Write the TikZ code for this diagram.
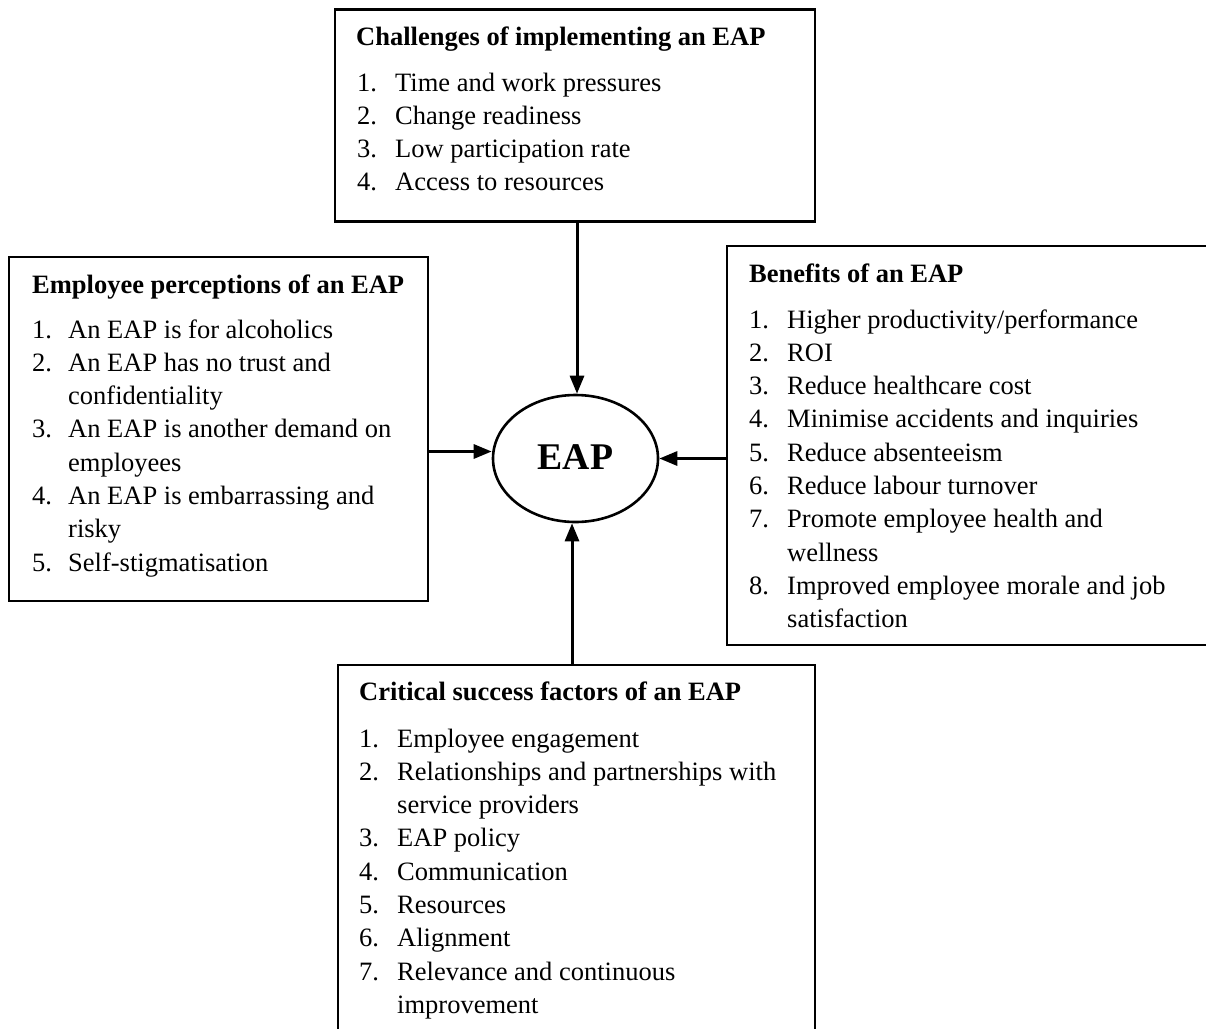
\documentclass[tikz,border=0pt]{standalone}
\usepackage{fontspec}
\setmainfont{Liberation Serif}
\usetikzlibrary{arrows.meta,shapes.geometric}
\tikzset{
  box/.style={draw, line width=2.2pt, rectangle, inner sep=0pt},
  txt/.style={anchor=base west, inner sep=0pt, font=\fontsize{26.5}{33}\selectfont},
  ttl/.style={txt, font=\fontsize{26.5}{33}\selectfont\bfseries},
  arr/.style={line width=3pt, -{Triangle[length=18pt,width=14pt]}},
}
\begin{document}
\begin{tikzpicture}[x=1pt,y=-1pt]
\useasboundingbox (0,0) rectangle (1206,1028);
\clip (0,0) rectangle (1206,1028);
\fill[white] (0,0) rectangle (1206,1028);
% boxes
\node[box, minimum width=480, minimum height=212] (top) at (575,115.5) {};
\node[box, minimum width=419, minimum height=344] (left) at (218.5,429) {};
\node[box, minimum width=490, minimum height=399] (right) at (972,445.5) {};
\node[box, minimum width=477, minimum height=380] (bot) at (576.5,855) {};
\node[draw, ellipse, line width=2.6pt, minimum width=165, minimum height=127, inner sep=0pt] (eap) at (575.5,458.5) {\fontsize{37.7}{40}\selectfont\bfseries\raisebox{2pt}{EAP}};
% arrows
\draw[arr] ([xshift=2pt]top.south) -- ([xshift=1.5pt]eap.north);
\draw[arr] ([yshift=7pt]eap.west -| left.east) -- ([yshift=7pt]eap.west);
\draw[arr] (right.west |- eap.east) -- (eap.east);
\draw[arr] ([xshift=-4.5pt]bot.north) -- ([xshift=-3.5pt]eap.south);
% top box text
\node[ttl] (tT) at (356,45) {Challenges of implementing an EAP};
\node[txt] (tn1) at (357,91) {1.};   \node[txt] (ti1) at (395,91) {Time and work pressures};
\node[txt] (tn2) at (357,124.3) {2.}; \node[txt] (ti2) at (395,124.3) {Change readiness};
\node[txt] (tn3) at (357,157.6) {3.}; \node[txt] (ti3) at (395,157.6) {Low participation rate};
\node[txt] (tn4) at (357,190.9) {4.}; \node[txt] (ti4) at (395,190.9) {Access to resources};
% left box text
\node[ttl] (lT) at (32,293) {Employee perceptions of an EAP};
\node[txt] (ln1) at (32,338) {1.};   \node[txt] (li1) at (68,338) {An EAP is for alcoholics};
\node[txt] (ln2) at (32,371.3) {2.}; \node[txt] (li2) at (68,371.3) {An EAP has no trust and};
\node[txt] (li2b) at (68,404.6) {confidentiality};
\node[txt] (ln3) at (32,437.9) {3.}; \node[txt] (li3) at (68,437.9) {An EAP is another demand on};
\node[txt] (li3b) at (68,471.2) {employees};
\node[txt] (ln4) at (32,504.5) {4.}; \node[txt] (li4) at (68,504.5) {An EAP is embarrassing and};
\node[txt] (li4b) at (68,537.8) {risky};
\node[txt] (ln5) at (32,571.1) {5.}; \node[txt] (li5) at (68,571.1) {Self-stigmatisation};
% right box text
\node[ttl] (rT) at (749,282) {Benefits of an EAP};
\node[txt] (rn1) at (749,328) {1.};   \node[txt] (ri1) at (787,328) {Higher productivity/performance};
\node[txt] (rn2) at (749,361.3) {2.}; \node[txt] (ri2) at (787,361.3) {ROI};
\node[txt] (rn3) at (749,394.6) {3.}; \node[txt] (ri3) at (787,394.6) {Reduce healthcare cost};
\node[txt] (rn4) at (749,427.9) {4.}; \node[txt] (ri4) at (787,427.9) {Minimise accidents and inquiries};
\node[txt] (rn5) at (749,461.2) {5.}; \node[txt] (ri5) at (787,461.2) {Reduce absenteeism};
\node[txt] (rn6) at (749,494.5) {6.}; \node[txt] (ri6) at (787,494.5) {Reduce labour turnover};
\node[txt] (rn7) at (749,527.8) {7.}; \node[txt] (ri7) at (787,527.8) {Promote employee health and};
\node[txt] (ri7b) at (787,561.1) {wellness};
\node[txt] (rn8) at (749,594.4) {8.}; \node[txt] (ri8) at (787,594.4) {Improved employee morale and job};
\node[txt] (ri8b) at (787,627.7) {satisfaction};
% bottom box text
\node[ttl] (bT) at (359,700) {Critical success factors of an EAP};
\node[txt] (bn1) at (359,747) {1.};   \node[txt] (bi1) at (397,747) {Employee engagement};
\node[txt] (bn2) at (359,780.3) {2.}; \node[txt] (bi2) at (397,780.3) {Relationships and partnerships with};
\node[txt] (bi2b) at (397,813.6) {service providers};
\node[txt] (bn3) at (359,846.9) {3.}; \node[txt] (bi3) at (397,846.9) {EAP policy};
\node[txt] (bn4) at (359,880.2) {4.}; \node[txt] (bi4) at (397,880.2) {Communication};
\node[txt] (bn5) at (359,913.5) {5.}; \node[txt] (bi5) at (397,913.5) {Resources};
\node[txt] (bn6) at (359,946.8) {6.}; \node[txt] (bi6) at (397,946.8) {Alignment};
\node[txt] (bn7) at (359,980.1) {7.}; \node[txt] (bi7) at (397,980.1) {Relevance and continuous};
\node[txt] (bi7b) at (397,1013.4) {improvement};
\end{tikzpicture}
\end{document}
